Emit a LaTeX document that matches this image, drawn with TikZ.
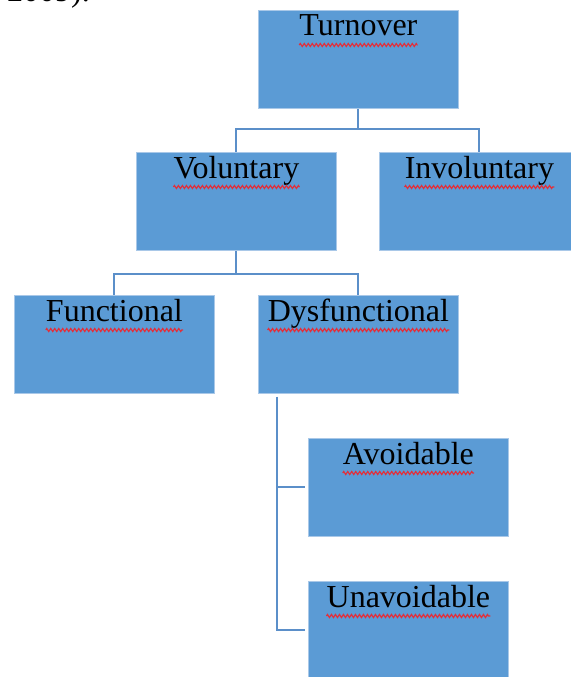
\documentclass[tikz,border=0pt]{standalone}
\usepackage{fontspec}
\setmainfont{Liberation Serif}
\usetikzlibrary{decorations.pathmorphing}
\definecolor{boxblue}{HTML}{5B9BD5}
\definecolor{edgeblue}{HTML}{A9C8E8}
\definecolor{lineblue}{HTML}{5B8FC9}
\definecolor{spellred}{HTML}{E0303C}
\tikzstyle{orgbox}=[draw=edgeblue, fill=boxblue, line width=0.8pt, minimum width=200pt, minimum height=98pt, inner sep=0pt, anchor=north west]
\tikzstyle{boxtext}=[anchor=base, inner sep=0pt, font=\fontsize{32}{38}\selectfont]
\tikzstyle{squiggle}=[draw=spellred, line width=1.2pt, decorate, decoration={zigzag, segment length=4pt, amplitude=1.5pt}]
\tikzstyle{branch}=[draw=lineblue, line width=2pt]

\begin{document}
\begin{tikzpicture}[x=1pt, y=-1pt]
        \useasboundingbox (0,0) rectangle (570,677);
        \node[boxtext, anchor=base east] (cite) at (90,1.5) {2009).};
        \node[orgbox] (turnover)      at (258,10)  {};
        \node[orgbox] (voluntary)     at (136,152) {};
        \node[orgbox] (involuntary)   at (379,152) {};
        \node[orgbox] (functional)    at (14,295)  {};
        \node[orgbox] (dysfunctional) at (258,295) {};
        \node[orgbox] (avoidable)     at (308,438) {};
        \node[orgbox] (unavoidable)   at (308,581) {};
        \foreach \b/\t in {turnover/Turnover, voluntary/Voluntary, involuntary/Involuntary,
                functional/Functional, dysfunctional/Dysfunctional,
                avoidable/Avoidable, unavoidable/Unavoidable} {
            \node[boxtext, yshift=-26pt] (\b-t) at (\b.north) {\t};
            \draw[squiggle] ([yshift=-9pt]\b-t.base west) -- ([yshift=-9pt]\b-t.base east);
        }
        \draw[branch] (turnover.south) -- ++(0,20) coordinate (tj);
        \draw[branch] (tj) -| (voluntary.north);
        \draw[branch] (tj) -| (involuntary.north);
        \draw[branch] (voluntary.south) -- ++(0,23) coordinate (vj);
        \draw[branch] (vj) -| (functional.north);
        \draw[branch] (vj) -| (dysfunctional.north);
        \coordinate (dj) at ([xshift=19pt, yshift=-3pt]dysfunctional.south west);
        \draw[branch] (dj) |- ([xshift=-3pt]avoidable.west);
        \draw[branch] (dj) |- ([xshift=-3pt]unavoidable.west);
    \end{tikzpicture}
\end{document}
